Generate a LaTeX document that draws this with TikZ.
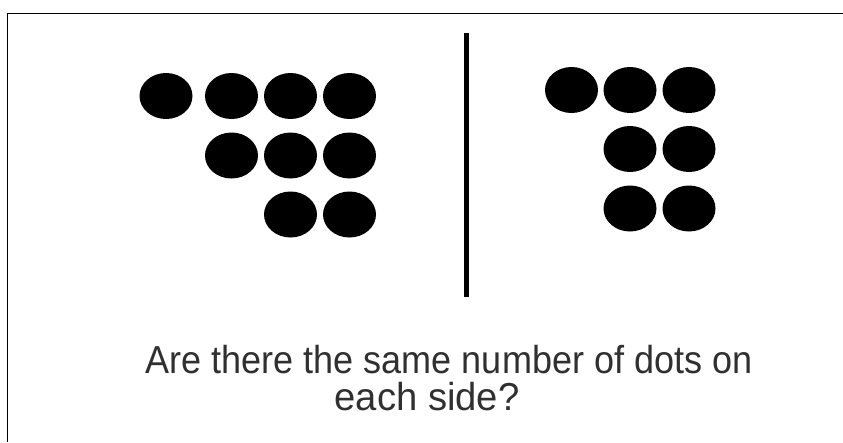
\documentclass[tikz,border=0pt]{standalone}
\usepackage{fontspec}
\setmainfont{Liberation Sans}
\usetikzlibrary{shapes.geometric}
\definecolor{txtgray}{HTML}{303030}
\begin{document}
\begin{tikzpicture}[x=1pt,y=-1pt,
  dot/.style={ellipse,fill=black,minimum width=53pt,minimum height=46pt,inner sep=0pt},
  frameline/.style={line width=1.4pt,black},
  divider/.style={line width=5pt,black},
  question/.style={text=txtgray,font=\fontsize{39}{38}\selectfont,inner sep=0pt,anchor=base}]
\useasboundingbox (0,0) rectangle (843,442);
\fill[white] (0,0) rectangle (843,442);
% frame
\coordinate (fbl) at (7.5,442);
\coordinate (ftl) at (7.5,13.5);
\coordinate (ftr) at (843,13.5);
\draw[frameline] (fbl) -- (ftl) -- (ftr);
% divider
\coordinate (dtop) at (466,33);
\coordinate (dbot) at (466,297);
\draw[divider] (dtop) -- (dbot);
% left group
\node[dot] (l11) at (166,96) {};
\node[dot] (l12) at (231.5,96) {};
\node[dot] (l13) at (290.5,96) {};
\node[dot] (l14) at (349.5,96) {};
\node[dot] (l22) at (231.5,155.5) {};
\node[dot] (l23) at (290.5,155.5) {};
\node[dot] (l24) at (349.5,155.5) {};
\node[dot] (l33) at (290.5,214.5) {};
\node[dot] (l34) at (349.5,214.5) {};
% right group
\node[dot] (r11) at (571.5,90) {};
\node[dot] (r12) at (630,90) {};
\node[dot] (r13) at (689,90) {};
\node[dot] (r22) at (630,149) {};
\node[dot] (r23) at (689,149) {};
\node[dot] (r32) at (630,208.5) {};
\node[dot] (r33) at (689,208.5) {};
% question
\node[question] (q1) at (449,373) {\scalebox{0.924}[1]{Are there the same number of dots on}};
\node[question] (q2) at (427,410) {\scalebox{0.98}[1]{each side?}};
\end{tikzpicture}
\end{document}
